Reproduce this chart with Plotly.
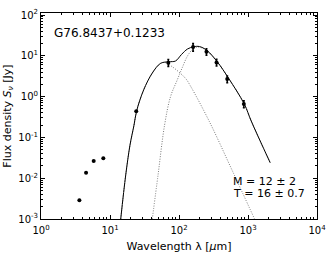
import plotly.graph_objects as go

# Observed photometry
obs_wave = [3.6, 4.5, 5.8, 8.0, 24, 70, 160, 250, 350, 500, 870]
obs_flux = [0.0029, 0.0136, 0.0264, 0.0307, 0.44, 6.8, 16.5, 12.6, 6.9, 2.7, 0.66]
obs_err = [0, 0, 0, 0, 0, 1.3, 3.5, 2.3, 1.3, 0.5, 0.13]

# Total model
tot_wave = [14.3, 16.9, 19.5, 22.3, 24.3, 30.7, 41.0, 54.1, 71.2, 88.9, 108.7, 132.7,
            163.6, 197.7, 255.4, 363.4, 523.6, 883, 1114, 2096]
tot_flux = [0.001, 0.012, 0.0652, 0.201, 0.444, 1.45, 3.78, 6.55, 7.16, 7.46, 10.8, 14.7,
            16.7, 16.9, 13.5, 6.93, 2.81, 0.659, 0.252, 0.024]

# Warm component
hot_wave = [14.3, 16.9, 19.5, 22.3, 24.3, 30.7, 41.0, 54.1, 61.8, 79.8, 124.1, 146.6,
            275.5, 586, 1245]
hot_flux = [0.001, 0.012, 0.0652, 0.201, 0.444, 1.45, 3.78, 6.5, 6.86, 5.41, 2.81, 1.82,
            0.245, 0.0159, 0.001]

# Cold component
cold_wave = [41.0, 49.7, 61.8, 75.3, 94.2, 112.4, 132.7, 156.6, 184.9, 225.8, 258.2,
             363.4, 523.6, 883, 1114, 2096]
cold_flux = [0.001, 0.012, 0.201, 0.995, 2.55, 5.31, 9.89, 14.3, 16.4, 15.1, 12.7,
             6.9, 2.8, 0.657, 0.251, 0.024]

# Axis ticks
x_exps = [0, 1, 2, 3, 4]
y_exps = [-3, -2, -1, 0, 1, 2]

x_tickvals = [10.0 ** e for e in x_exps]
x_ticktext = ["10<sup>%d</sup>" % e for e in x_exps]
y_tickvals = [10.0 ** e for e in y_exps]
y_ticktext = ["10<sup>%d</sup>" % e for e in y_exps]
x_minor = [m * 10.0 ** e for e in x_exps[:-1] for m in range(2, 10)]
y_minor = [m * 10.0 ** e for e in y_exps[:-1] for m in range(2, 10)]

fig = go.Figure()
dot = dict(color="#7a7a7a", width=1, dash="1px,1.5px", shape="spline")
fig.add_trace(go.Scatter(x=hot_wave, y=hot_flux, mode="lines", line=dot))
fig.add_trace(go.Scatter(x=cold_wave, y=cold_flux, mode="lines", line=dot))
fig.add_trace(go.Scatter(x=tot_wave, y=tot_flux, mode="lines",
                         line=dict(color="black", width=1, shape="spline")))
fig.add_trace(go.Scatter(x=obs_wave, y=obs_flux, mode="markers",
                         marker=dict(color="black", size=4),
                         error_y=dict(type="data", array=obs_err, color="black",
                                      thickness=1.5, width=1)))

font = "DejaVu Sans"
axis_common = dict(type="log", showline=True, linecolor="black", linewidth=1,
                   mirror="ticks", ticks="inside", ticklen=4, tickcolor="black",
                   showgrid=False, zeroline=False, automargin=False,
                   tickfont=dict(family=font, size=10, color="black"))
fig.update_xaxes(range=[0, 4], tickvals=x_tickvals, ticktext=x_ticktext,
                 ticklabelstandoff=2,
                 minor=dict(ticks="inside", ticklen=2, tickcolor="black",
                            tickvals=x_minor, showgrid=False),
                 title=dict(text="Wavelength λ [<i>μ</i>m]", standoff=7,
                            font=dict(family=font, size=11, color="black")),
                 **axis_common)
fig.update_yaxes(range=[-3, 2.05], tickvals=y_tickvals, ticktext=y_ticktext,
                 minor=dict(ticks="inside", ticklen=2, tickcolor="black",
                            tickvals=y_minor, showgrid=False),
                 title=dict(text="Flux density <i>S<sub>ν</sub></i> [Jy]", standoff=4,
                            font=dict(family=font, size=11, color="black")),
                 **axis_common)

fig.add_annotation(text="G76.8437+0.1233", xref="paper", yref="paper", x=0.04, y=0.905,
                   xanchor="left", yanchor="middle", showarrow=False,
                   font=dict(family=font, size=12, color="black"))
fig.add_annotation(text="M = 12 ± 2", xref="paper", yref="paper",
                   x=0.69, y=0.18, xanchor="left", yanchor="middle", showarrow=False,
                   font=dict(family=font, size=11, color="black"))
fig.add_annotation(text="T = 16 ± 0.7", xref="paper", yref="paper",
                   x=0.69, y=0.125, xanchor="left", yanchor="middle", showarrow=False,
                   font=dict(family=font, size=11, color="black"))

fig.update_layout(width=333, height=255, showlegend=False,
                  margin=dict(l=41, r=16, t=13, b=36),
                  paper_bgcolor="white", plot_bgcolor="white")
fig.write_html("out.html", config={"displayModeBar": False},
               post_script="document.body.style.margin='0';")
